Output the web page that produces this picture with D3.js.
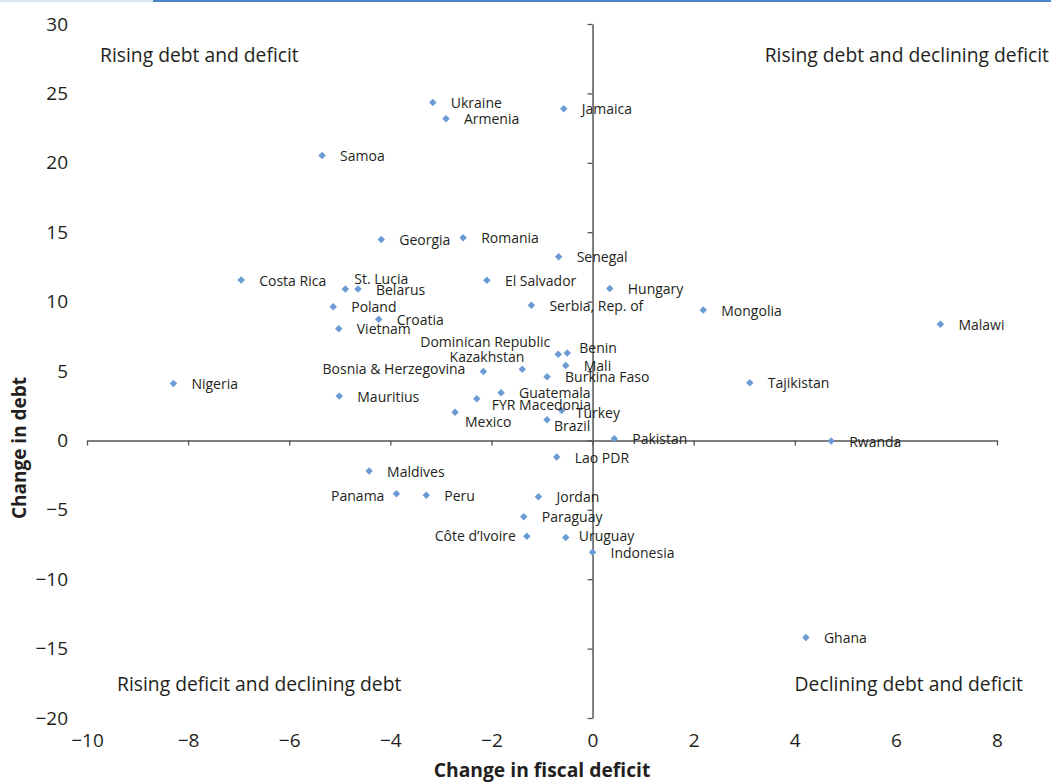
<!DOCTYPE html>
<html>
<head>
<meta charset="utf-8">
<script src="https://cdn.jsdelivr.net/npm/d3@7/dist/d3.min.js"></script>
<style>
  html, body { margin: 0; padding: 0; background: #fff; }
  svg { display: block; }
  text { font-family: "Open Sans", "Noto Sans", sans-serif; fill: #231f20; }
</style>
</head>
<body>
<svg id="chart" width="1051" height="784"></svg>
<script>
// ---- data ----
const countries = ["Ukraine","Armenia","Jamaica","Samoa","Georgia","Romania","Senegal","Costa Rica","St. Lucia","Belarus","El Salvador","Hungary","Serbia, Rep. of","Mongolia","Poland","Croatia","Malawi","Vietnam","Dominican Republic","Benin","Kazakhstan","Mali","Bosnia & Herzegovina","Burkina Faso","Nigeria","Tajikistan","Mauritius","Guatemala","FYR Macedonia","Turkey","Mexico","Brazil","Pakistan","Rwanda","Lao PDR","Maldives","Panama","Peru","Jordan","Paraguay","Côte d’Ivoire","Uruguay","Indonesia","Ghana"];
const fiscalDeficitChange = [-3.16,-2.90,-0.57,-5.35,-4.18,-2.56,-0.67,-6.95,-4.89,-4.64,-2.09,0.34,-1.21,2.19,-5.13,-4.23,6.88,-5.02,-0.68,-0.50,-1.39,-0.53,-2.16,-0.90,-8.29,3.11,-5.01,-1.81,-2.29,-0.61,-2.72,-0.90,0.43,4.72,-0.71,-4.42,-3.88,-3.29,-1.07,-1.36,-1.30,-0.53,0.00,4.22];
const debtChange = [24.35,23.18,23.9,20.53,14.48,14.6,13.23,11.55,10.9,10.9,11.53,10.95,9.73,9.39,9.63,8.72,8.36,8.05,6.2,6.29,5.12,5.4,4.97,4.59,4.1,4.16,3.19,3.44,3.0,2.16,2.02,1.49,0.12,-0.05,-1.2,-2.21,-3.84,-3.96,-4.06,-5.5,-6.9,-6.99,-8.05,-14.2];
const xTicks = [-10,-8,-6,-4,-2,0,2,4,6,8];
const yTicks = [-20,-15,-10,-5,0,5,10,15,20,25,30];
const quadrantLabels = ["Rising debt and deficit","Rising debt and declining deficit","Rising deficit and declining debt","Declining debt and deficit"];

// ---- layout (label placement tweaks, not data) ----
const labelPlacement = {
  "St. Lucia": {anchor:"start", dx:9, dy:-5},
  "Dominican Republic": {anchor:"end", dx:-8, dy:-7},
  "Kazakhstan": {anchor:"end", dx:2, dy:-7},
  "Bosnia & Herzegovina": {anchor:"end", dx:-18, dy:3},
  "Benin": {anchor:"start", dx:12, dy:0},
  "FYR Macedonia": {anchor:"start", dx:15, dy:11},
  "Turkey": {anchor:"start", dx:14, dy:8},
  "Mexico": {anchor:"start", dx:10, dy:15},
  "Brazil": {anchor:"start", dx:7, dy:11},
  "Panama": {anchor:"end", dx:-12, dy:7},
  "Côte d’Ivoire": {anchor:"end", dx:-11, dy:5},
  "Uruguay": {anchor:"start", dx:13, dy:4}
};
const defaultPlacement = {anchor:"start", dx:18, dy:5.5};

const svg = d3.select("#chart");

// header rule
svg.append("rect").attr("x",0).attr("y",0).attr("width",153).attr("height",2).attr("fill","#dbe6f1");
svg.append("rect").attr("x",153).attr("y",0).attr("width",898).attr("height",2).attr("fill","#4a86c5");

const x = d3.scaleLinear().domain([-10, 8]).range([87, 997]);
const y = d3.scaleLinear().domain([-20, 30]).range([718, 24]);

const axisColor = "#555";

// x axis through y=0
const gx = svg.append("g").attr("transform", `translate(0,${y(0)})`)
  .call(d3.axisBottom(x).tickValues(xTicks).tickSizeInner(5).tickSizeOuter(0).tickFormat(""));
gx.select(".domain").attr("stroke", axisColor).attr("stroke-width", 1.5);
gx.selectAll(".tick line").attr("stroke", axisColor).attr("stroke-width", 1.3);

// y axis through x=0
const gy = svg.append("g").attr("transform", `translate(${x(0)},0)`)
  .call(d3.axisLeft(y).tickValues(yTicks).tickSizeInner(5).tickSizeOuter(0).tickFormat(""));
gy.select(".domain").attr("stroke", axisColor).attr("stroke-width", 1.5);
gy.selectAll(".tick line").attr("stroke", axisColor).attr("stroke-width", 1.3);

// tick labels at chart edges
const gxl = svg.append("g").attr("transform", `translate(0,730)`)
  .call(d3.axisBottom(x).tickValues(xTicks).tickSize(0).tickPadding(0));
gxl.select(".domain").remove();
gxl.selectAll("text").attr("font-size", 19).attr("fill", "#231f20")
  .attr("font-family", '"Open Sans", sans-serif').attr("dy", "0.9em");

const gyl = svg.append("g").attr("transform", `translate(68,0)`)
  .call(d3.axisLeft(y).tickValues(yTicks).tickSize(0).tickPadding(0));
gyl.select(".domain").remove();
gyl.selectAll("text").attr("font-size", 19).attr("fill", "#231f20")
  .attr("font-family", '"Open Sans", sans-serif');

// axis titles
svg.append("text").attr("x", 542).attr("y", 777).attr("text-anchor","middle")
  .attr("font-size", 19.3).attr("font-weight","bold").text("Change in fiscal deficit");
svg.append("text").attr("transform","translate(26,448) rotate(-90)").attr("text-anchor","middle")
  .attr("font-size", 19).attr("font-weight","bold").text("Change in debt");

// quadrant labels
const qpos = [
  {x:100, y:62, anchor:"start"},
  {x:1049, y:62, anchor:"end"},
  {x:117, y:691, anchor:"start"},
  {x:1023, y:691, anchor:"end"}
];
svg.selectAll("text.quad").data(quadrantLabels).join("text").attr("class","quad")
  .attr("x",(d,i)=>qpos[i].x).attr("y",(d,i)=>qpos[i].y).attr("text-anchor",(d,i)=>qpos[i].anchor)
  .attr("font-size", 19.3).text(d=>d);

// points
const data = countries.map((c,i)=>({name:c, xv:fiscalDeficitChange[i], yv:debtChange[i]}));
const sym = d3.symbol().type(d3.symbolSquare).size(28);
svg.append("g").selectAll("path").data(data).join("path")
  .attr("d", sym)
  .attr("transform", d=>`translate(${x(d.xv)},${y(d.yv)}) rotate(45)`)
  .attr("fill", "#6b9bd2");

// labels
svg.append("g").selectAll("text").data(data).join("text")
  .each(function(d){
    const p = labelPlacement[d.name] || defaultPlacement;
    d3.select(this).attr("x", x(d.xv)+p.dx).attr("y", y(d.yv)+p.dy).attr("text-anchor", p.anchor);
  })
  .attr("font-size", 14).text(d=>d.name);
</script>
</body>
</html>
